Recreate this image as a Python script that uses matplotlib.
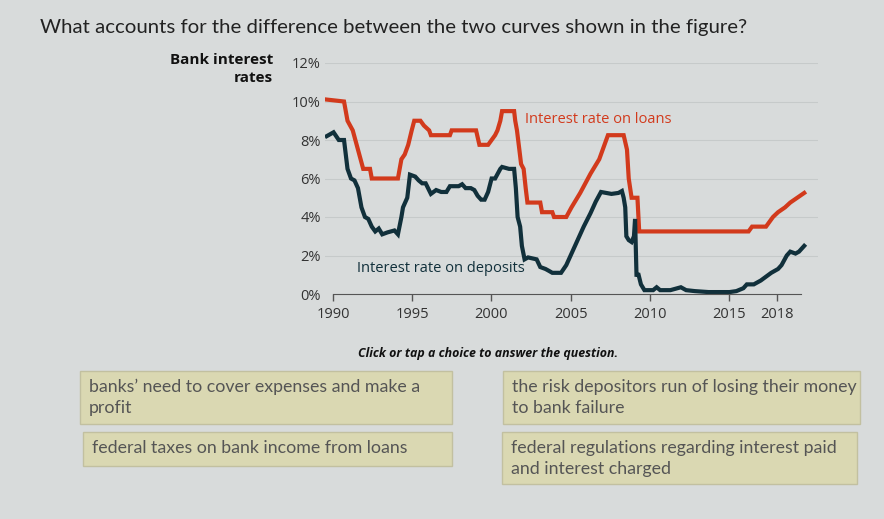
import matplotlib
matplotlib.use("Agg")
import numpy as np
from matplotlib import pyplot as plt
from matplotlib.patches import Rectangle

# data
loan_years = [1989.61, 1990.70, 1990.92, 1991.25, 1991.91, 1992.34, 1992.45, 1994.10, 1994.32,
              1994.53, 1994.75, 1994.97, 1995.13, 1995.52, 1995.74, 1996.07, 1996.18, 1997.38,
              1997.49, 1999.03, 1999.24, 1999.79, 2000.01, 2000.23, 2000.38, 2000.56, 2000.67,
              2001.43, 2001.50, 2001.61, 2001.76, 2001.87, 2002.03, 2002.16, 2002.27, 2003.08,
              2003.19, 2003.84, 2003.95, 2004.72, 2005.05, 2005.60, 2006.25, 2006.80, 2007.02,
              2007.35, 2008.34, 2008.55, 2008.66, 2008.84, 2009.21, 2009.32, 2016.22, 2016.44,
              2017.32, 2017.54, 2017.76, 2018.08, 2018.52, 2018.85, 2019.29, 2019.73]
loan_rates = [10.1, 10.0, 9.0, 8.5, 6.5, 6.5, 6.0, 6.0, 7.0,
              7.25, 7.75, 8.5, 9.0, 9.0, 8.75, 8.5, 8.25, 8.25,
              8.5, 8.5, 7.75, 7.75, 8.0, 8.25, 8.5, 9.0, 9.5,
              9.5, 9.0, 8.5, 7.5, 6.75, 6.5, 5.5, 4.75, 4.75,
              4.25, 4.25, 4.0, 4.0, 4.5, 5.25, 6.25, 7.0, 7.5,
              8.25, 8.25, 7.5, 6.0, 5.0, 5.0, 3.25, 3.25, 3.5,
              3.5, 3.75, 4.0, 4.25, 4.5, 4.75, 5.0, 5.25]

dep_years = [1989.61, 1990.04, 1990.37, 1990.70, 1990.92, 1991.14, 1991.36, 1991.58, 1991.80,
             1992.02, 1992.23, 1992.45, 1992.67, 1992.89, 1993.11, 1993.44, 1993.88, 1994.10,
             1994.32, 1994.42, 1994.69, 1994.86, 1995.19, 1995.41, 1995.63, 1995.85, 1996.18,
             1996.51, 1996.83, 1997.16, 1997.38, 1997.93, 1998.15, 1998.37, 1998.70, 1998.92,
             1999.13, 1999.35, 1999.57, 1999.79, 2000.01, 2000.23, 2000.56, 2000.67, 2001.11,
             2001.43, 2001.54, 2001.65, 2001.81, 2001.92, 2002.09, 2002.31, 2002.85, 2003.08,
             2003.41, 2003.63, 2003.84, 2004.39, 2004.72, 2005.27, 2005.82, 2006.25, 2006.58,
             2006.91, 2007.57, 2008.01, 2008.23, 2008.34, 2008.44, 2008.51, 2008.66, 2008.84,
             2008.99, 2009.06, 2009.15, 2009.28, 2009.43, 2009.65, 2010.20, 2010.42, 2010.64,
             2011.29, 2011.95, 2012.28, 2012.83, 2013.70, 2015.02, 2015.45, 2015.89, 2016.11,
             2016.55, 2016.99, 2017.32, 2017.65, 2018.08, 2018.30, 2018.63, 2018.85, 2019.18,
             2019.40, 2019.73]
dep_rates = [8.2, 8.4, 8.0, 8.0, 6.5, 6.0, 5.9, 5.5, 4.5,
             4.0, 3.9, 3.5, 3.25, 3.4, 3.1, 3.2, 3.3, 3.1,
             4.0, 4.5, 5.0, 6.2, 6.1, 5.9, 5.75, 5.75, 5.2,
             5.4, 5.3, 5.3, 5.6, 5.6, 5.7, 5.5, 5.5, 5.4,
             5.1, 4.9, 4.9, 5.3, 6.0, 6.0, 6.5, 6.6, 6.5,
             6.5, 5.5, 4.0, 3.5, 2.5, 1.8, 1.9, 1.8, 1.4,
             1.3, 1.2, 1.1, 1.1, 1.5, 2.5, 3.5, 4.2, 4.8,
             5.3, 5.2, 5.25, 5.35, 5.0, 4.5, 3.0, 2.8, 2.7,
             3.0, 3.9, 1.0, 1.0, 0.5, 0.2, 0.2, 0.35, 0.2,
             0.2, 0.35, 0.2, 0.15, 0.1, 0.1, 0.15, 0.3, 0.5,
             0.5, 0.7, 0.9, 1.1, 1.3, 1.5, 2.0, 2.2, 2.1,
             2.2, 2.5]

year_ticks = [1990, 1995, 2000, 2005, 2010, 2015, 2018]
pct_ticks = [0, 2, 4, 6, 8, 10, 12]

question = "What accounts for the difference between the two curves shown in the figure?"
choices = ["banks\u2019 need to cover expenses and make a\nprofit",
           "the risk depositors run of losing their money\nto bank failure",
           "federal taxes on bank income from loans",
           "federal regulations regarding interest paid\nand interest charged"]

W, H = 884, 519
bg = "#d8dbdb"
red = "#d23a1c"
navy = "#11303b"

fig = plt.figure(figsize=(W / 100, H / 100), dpi=100, facecolor=bg)

def fx(px):
    return px / W

def fy(py):
    return 1 - py / H

# chart area: 1989.5 at x=325, 2020.6 at x=818 ; 0% at y=294, 12% at y=63
ax = fig.add_axes([fx(325), fy(294), fx(818 - 325), (294 - 63) / H])
ax.set_facecolor(bg)
ax.plot(loan_years, loan_rates, color=red, lw=3, solid_joinstyle="miter")
ax.plot(dep_years, dep_rates, color=navy, lw=3, solid_joinstyle="miter")
ax.set_xlim(1989.5, 2020.6)
ax.set_ylim(0, 12)
ax.set_yticks(pct_ticks)
ax.set_yticklabels([f"{p}%" for p in pct_ticks], fontsize=10.5, color="#333333", family="Open Sans")
ax.set_xticks(year_ticks)
ax.set_xticklabels([str(y) for y in year_ticks], fontsize=10.5, color="#333333", family="Open Sans")
ax.tick_params(axis="y", length=0, pad=3)
ax.tick_params(axis="x", direction="out", length=5, width=1, color="#555555", pad=4)
for p in pct_ticks[1:]:
    ax.axhline(p, color="#c6caca", lw=0.8, zorder=0)
for s in ["top", "right", "left"]:
    ax.spines[s].set_visible(False)
ax.spines["bottom"].set_color("#555555")
ax.spines["bottom"].set_bounds(1990, 2019.5)

ax.text(2002.1, 9.05, "Interest rate on loans", color=red, fontsize=10.5, family="Open Sans", va="center")
ax.text(1991.5, 1.3, "Interest rate on deposits", color=navy, fontsize=10.5, family="Open Sans", va="center")

fig.text(fx(273), fy(69), "Bank interest\nrates", ha="right", va="center", fontsize=11,
         fontweight="bold", family="Open Sans", color="#111111", linespacing=1.45)

fig.text(fx(40), fy(28), question, ha="left", va="center", fontsize=14.7, family="Lato", color="#222222")

fig.text(fx(488), fy(353), "Click or tap a choice to answer the question.", ha="center", va="center",
         fontsize=8.9, fontweight="bold", style="italic", family="Open Sans", color="#111111")

# answer boxes (left, top, right, bottom in pixels)
boxes = [(80, 371, 452, 424), (503, 371, 860, 424), (83, 432, 452, 466), (502, 432, 857, 484)]
for (l, t, r, b), txt in zip(boxes, choices):
    fig.patches.append(Rectangle((fx(l), fy(b)), fx(r - l), (b - t) / H, transform=fig.transFigure,
                                 facecolor="#dad8b2", edgecolor="#c2c0a0", lw=1))
    fig.text(fx(l + 9), fy(t + 8), txt, ha="left", va="top", fontsize=12.8, family="Lato",
             color="#555555", linespacing=1.35)

fig.savefig("out.png", dpi=100, facecolor=bg)
